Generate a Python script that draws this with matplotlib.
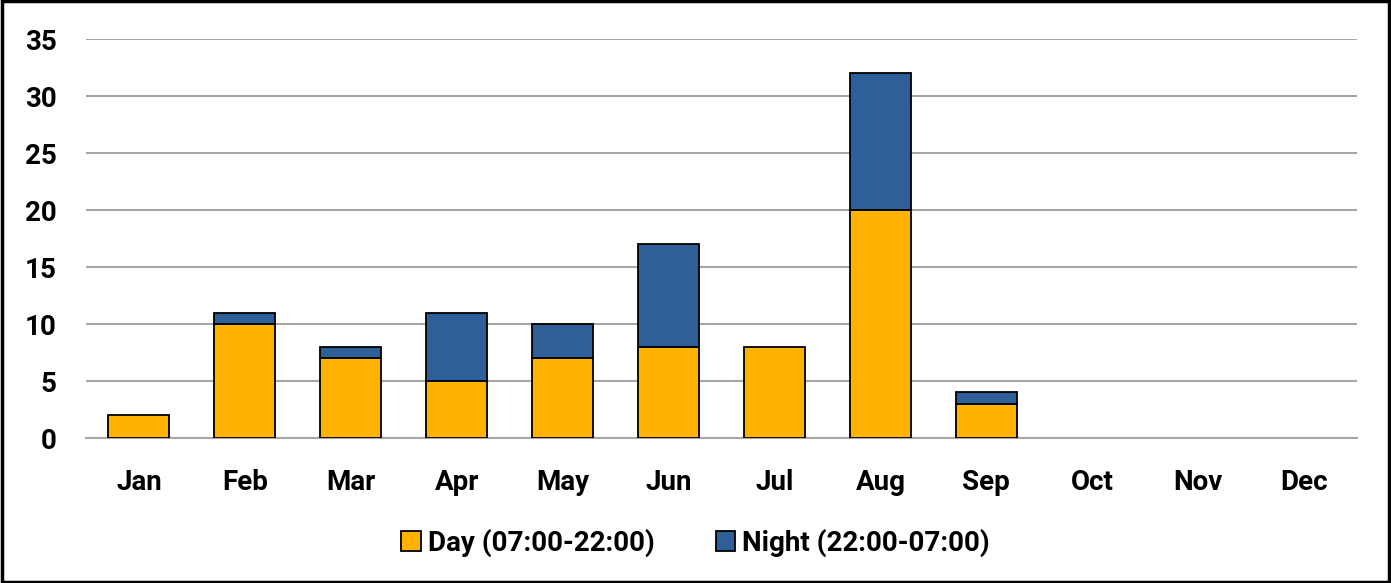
import matplotlib
matplotlib.use('Agg')
import matplotlib.pyplot as plt
from matplotlib.patches import Rectangle

months = ['Jan', 'Feb', 'Mar', 'Apr', 'May', 'Jun', 'Jul', 'Aug', 'Sep', 'Oct', 'Nov', 'Dec']
day = [2, 10, 7, 5, 7, 8, 8, 20, 3, 0, 0, 0]
night = [0, 1, 1, 6, 3, 9, 0, 12, 1, 0, 0, 0]

day_color = '#FFB300'
night_color = '#2F5F98'

plt.rcParams['font.family'] = ['Roboto', 'DejaVu Sans']
plt.rcParams['font.weight'] = 'bold'

fig = plt.figure(figsize=(13.91, 5.83), dpi=100)
ax = fig.add_axes([0.0618, 0.2487, 0.9138, 0.6843])

x = list(range(len(months)))
# only draw non-zero segments
for i in x:
    if day[i] > 0:
        ax.bar(i, day[i], width=0.575, color=day_color, edgecolor='black', linewidth=1.3, zorder=3)
    if night[i] > 0:
        ax.bar(i, night[i], bottom=day[i], width=0.575, color=night_color, edgecolor='black', linewidth=1.3, zorder=3)

ax.set_xlim(-0.5, 11.5)
ax.set_ylim(0, 35)
ax.set_yticks(range(0, 36, 5))
ax.set_yticklabels([str(v) for v in range(0, 36, 5)], fontweight='bold')
ax.set_xticks(x)
ax.set_xticklabels(months, fontweight='bold')
ax.grid(axis='y', color='#A6A6A6', linewidth=1.5, zorder=0)
for s in ['top', 'right', 'left']:
    ax.spines[s].set_visible(False)
ax.spines['bottom'].set_color('#A6A6A6')
ax.spines['bottom'].set_linewidth(1.5)
ax.tick_params(axis='both', length=0, labelsize=20)
ax.tick_params(axis='y', pad=21)
ax.tick_params(axis='x', pad=22)

handles = [Rectangle((0, 0), 1, 1, facecolor=day_color, edgecolor='black', linewidth=1.3),
           Rectangle((0, 0), 1, 1, facecolor=night_color, edgecolor='black', linewidth=1.3)]
fig.legend(handles, ['Day (07:00-22:00)', 'Night (22:00-07:00)'], loc='center',
           bbox_to_anchor=(0.5, 0.069), ncol=2, frameon=False,
           prop={'size': 20, 'weight': 'bold'},
           handlelength=0.7, handleheight=0.7, handletextpad=0.25, columnspacing=2.2)

# outer border
fig.patches.append(Rectangle((0.0015, 0.0025), 0.997, 0.995, transform=fig.transFigure,
                             fill=False, edgecolor='black', linewidth=2.5))

fig.savefig('out.png', dpi=100)
